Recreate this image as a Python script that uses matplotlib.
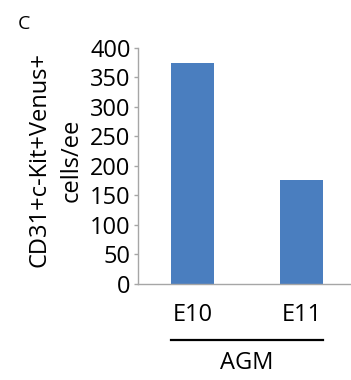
import matplotlib
matplotlib.use('Agg')
import matplotlib.pyplot as plt
import matplotlib.transforms as mtransforms

plt.rcParams['font.family'] = ['Open Sans', 'DejaVu Sans']

# data
categories = ['E10', 'E11']
values = [374, 176]
group_label = 'AGM'
ylabel = 'CD31+c-Kit+Venus+\ncells/ee'
yticks = [0, 50, 100, 150, 200, 250, 300, 350, 400]

bar_color = '#4a7ebf'
axis_color = '#a6a6a6'

fig = plt.figure(figsize=(3.51, 3.80), dpi=100)
ax = fig.add_axes([0.392, 0.253, 0.608, 0.621])

x = list(range(len(categories)))
bar_width = 0.4
ax.bar(x, values, width=bar_width, color=bar_color, zorder=2)

ax.set_xlim(-0.505, 1.455)
ax.set_ylim(0, 400)
ax.set_yticks(yticks)
ax.set_yticklabels([str(t) for t in yticks], fontsize=17)
ax.set_xticks(x)
ax.set_xticklabels(categories, fontsize=17)
ax.tick_params(axis='x', length=0, pad=14)
ax.tick_params(axis='y', length=3, width=1, color=axis_color, pad=2)

for side in ['top', 'right']:
    ax.spines[side].set_visible(False)
for side in ['left', 'bottom']:
    ax.spines[side].set_color(axis_color)
    ax.spines[side].set_linewidth(1)

ax.set_ylabel(ylabel, fontsize=17, linespacing=1.45)
ax.yaxis.set_label_coords(-0.255, 0.525)

# group bracket under the categories
trans = mtransforms.blended_transform_factory(ax.transData, ax.transAxes)
x0 = x[0] - bar_width / 2
x1 = x[-1] + bar_width / 2
ax.plot([x0, x1], [-0.237, -0.237], color='black', lw=1.6, transform=trans, clip_on=False)
ax.text((x0 + x1) / 2, -0.335, group_label, transform=trans, ha='center', va='center', fontsize=17)

fig.text(0.05, 0.937, 'C', fontsize=14, ha='left', va='center')

fig.savefig('out.png', dpi=100)
